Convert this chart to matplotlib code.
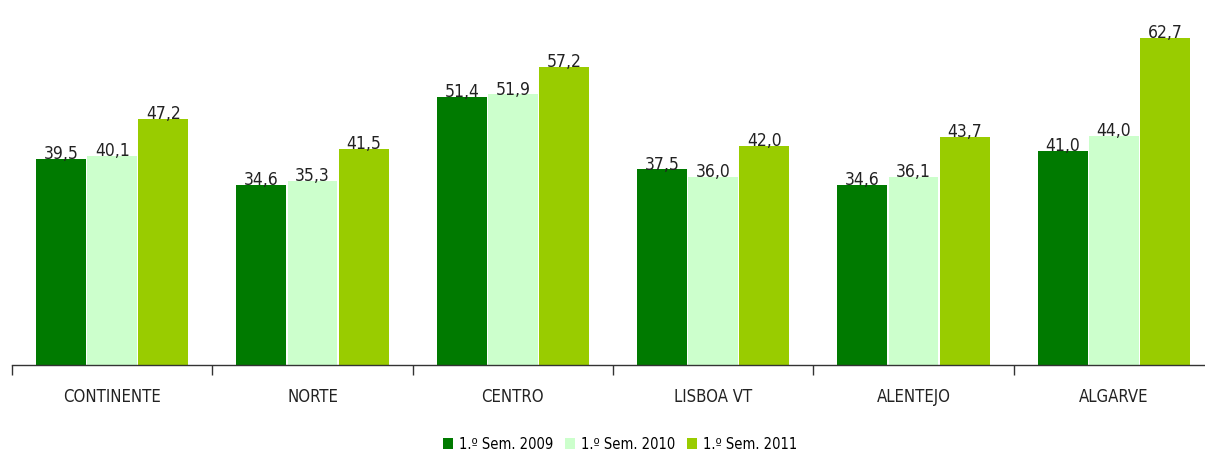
import numpy as np
import matplotlib
matplotlib.use("Agg")
from matplotlib import pyplot as plt

# data
regions = ["CONTINENTE", "NORTE", "CENTRO", "LISBOA VT", "ALENTEJO", "ALGARVE"]
sem_2009 = [39.5, 34.6, 51.4, 37.5, 34.6, 41.0]
sem_2010 = [40.1, 35.3, 51.9, 36.0, 36.1, 44.0]
sem_2011 = [47.2, 41.5, 57.2, 42.0, 43.7, 62.7]
series_names = ["1.º Sem. 2009", "1.º Sem. 2010", "1.º Sem. 2011"]
colors = ["#007A00", "#CCFFCC", "#99CC00"]

plt.rcParams['font.family'] = ['DejaVu Sans']
plt.rcParams['font.stretch'] = 'condensed'

fig = plt.figure(figsize=(12.05, 4.52), dpi=100)
ax = fig.add_axes([12/1205, 1 - 366/452, 1202/1205, 365/452])

x = np.arange(len(regions))
w = 0.255
for k, (vals, col, name) in enumerate(zip([sem_2009, sem_2010, sem_2011], colors, series_names)):
    pos = x + (k - 1) * w
    ax.bar(pos, vals, width=w - 0.006, color=col, label=name, zorder=2)
    for p, v in zip(pos, vals):
        ax.text(p, v - 0.6, f"{v:.1f}".replace(".", ","), ha="center", va="bottom",
                fontsize=12.5, color="#222222", zorder=3)

ax.set_xlim(-0.5, len(regions) - 0.5)
ax.set_ylim(0, 70)
ax.set_yticks([])
for s in ["top", "right", "left"]:
    ax.spines[s].set_visible(False)
ax.spines["bottom"].set_color("#333333")
ax.spines["bottom"].set_linewidth(1)

# category boundary ticks
ax.set_xticks(np.arange(len(regions) + 1) - 0.5)
ax.set_xticklabels([])
ax.tick_params(axis="x", length=7, color="#333333", width=1)
ax.set_xticks(x, minor=True)
ax.set_xticklabels(regions, minor=True, fontsize=12, color="#222222")
ax.tick_params(axis="x", which="minor", length=0, pad=16)

fig.legend(loc="center", bbox_to_anchor=(620/1205, 1 - 445/452), ncol=3,
           frameon=False, fontsize=10.5, handlelength=0.7, handleheight=0.7,
           handletextpad=0.4, columnspacing=0.8)

fig.savefig("out.png", dpi=100)
